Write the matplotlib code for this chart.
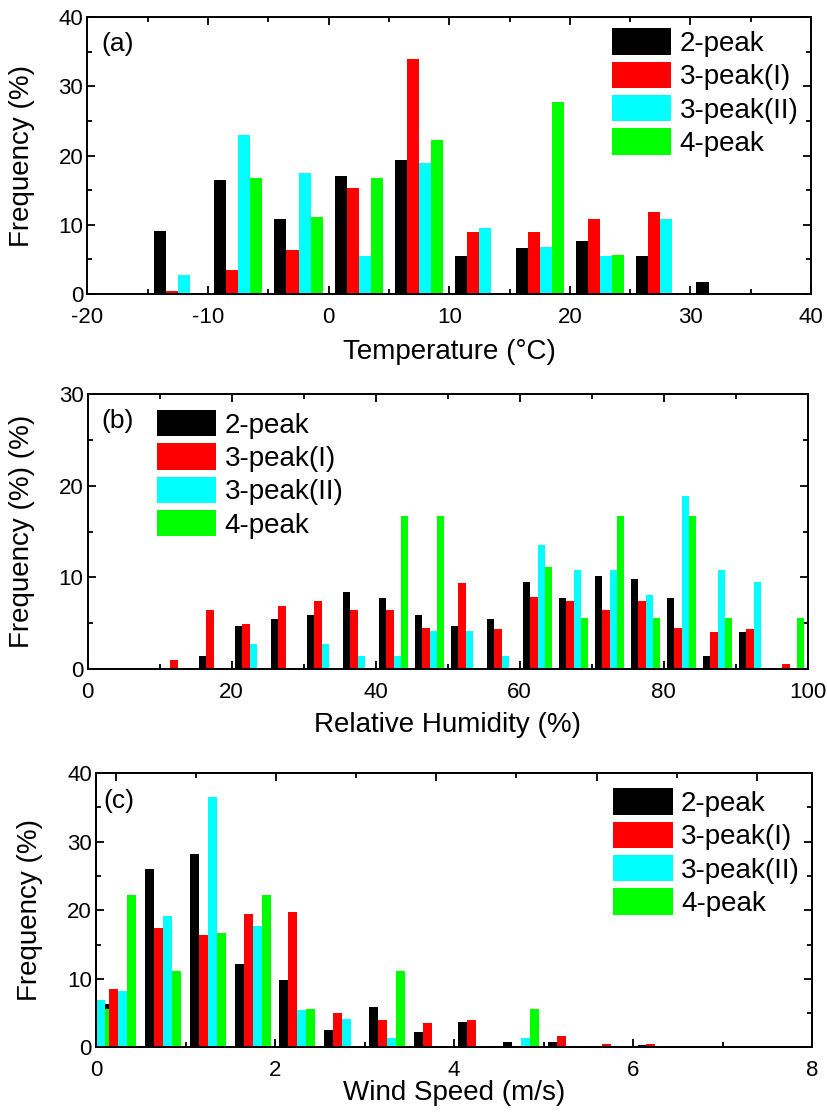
import numpy as np
import matplotlib
matplotlib.use("Agg")
import matplotlib.pyplot as plt
from matplotlib.ticker import MultipleLocator

plt.rcParams['font.family'] = ['Liberation Sans', 'DejaVu Sans']
plt.rcParams['axes.unicode_minus'] = False

series_names = ['2-peak', '3-peak(I)', '3-peak(II)', '4-peak']
series_colors = ['#000000', '#ff0000', '#00ffff', '#00ff00']

# (a) temperature, 5 degC bins (left edges)
temp_bins = [-15, -10, -5, 0, 5, 10, 15, 20, 25, 30]
temp_2peak = [9.1, 16.4, 10.9, 17.1, 19.3, 5.5, 6.6, 7.7, 5.5, 1.8]
temp_3peak_1 = [0.5, 3.5, 6.4, 15.3, 33.9, 8.9, 8.9, 10.8, 11.8, 0]
temp_3peak_2 = [2.7, 23.0, 17.5, 5.5, 18.9, 9.5, 6.8, 5.5, 10.8, 0]
temp_4peak = [0, 16.7, 11.1, 16.7, 22.2, 0, 27.8, 5.6, 0, 0]

# (b) relative humidity, 5 % bins (left edges)
rh_bins = [10, 15, 20, 25, 30, 35, 40, 45, 50, 55, 60, 65, 70, 75, 80, 85, 90, 95]
rh_2peak = [0, 1.45, 4.7, 5.5, 5.85, 8.4, 7.7, 5.85, 4.7, 5.5, 9.5, 7.7, 10.2, 9.85, 7.7, 1.45, 4.0, 0]
rh_3peak_1 = [1.0, 6.4, 4.9, 6.9, 7.4, 6.4, 6.4, 4.5, 9.35, 4.4, 7.9, 7.4, 6.4, 7.4, 4.5, 4.0, 4.4, 0.5]
rh_3peak_2 = [0, 0, 2.7, 0, 2.7, 1.4, 1.4, 4.1, 4.1, 1.4, 13.5, 10.8, 10.8, 8.1, 18.9, 10.8, 9.5, 0]
rh_4peak = [0, 0, 0, 0, 0, 0, 16.7, 16.7, 0, 0, 11.1, 5.6, 16.7, 5.6, 16.7, 5.6, 0, 5.6]

# (c) wind speed, 0.5 m/s bins (left edges), plus the calm group at -0.25
wind_bins = [0, 0.5, 1.0, 1.5, 2.0, 2.5, 3.0, 3.5, 4.0, 4.5, 5.0, 5.5, 6.0]
wind_2peak = [6.3, 26.1, 28.2, 12.1, 9.9, 2.6, 5.9, 2.3, 3.7, 0.8, 0.8, 0, 0.4]
wind_3peak_1 = [8.5, 17.4, 16.35, 19.4, 19.8, 5.0, 4.0, 3.5, 4.0, 0, 1.6, 0.55, 0.55]
wind_3peak_2 = [8.2, 19.1, 36.6, 17.7, 5.5, 4.1, 1.4, 0, 0, 1.4, 0, 0, 0]
wind_4peak = [22.3, 11.1, 16.7, 22.2, 5.6, 0, 11.1, 0, 0, 5.6, 0, 0, 0]
calm_bin = -0.25
calm_vals = [0, 0, 6.9, 5.6]


def grouped_bars(ax, bins, data, bw, zorders=(2, 3, 3, 3)):
    bins = np.asarray(bins, dtype=float)
    w = 0.2 * bw
    for i, (vals, c) in enumerate(zip(data, series_colors)):
        ax.bar(bins + bw * (0.2 + 0.2 * i), vals, width=w, color=c,
               linewidth=0, zorder=zorders[i], label=series_names[i])


def style_axes(ax, xmaj, xmin, ymaj=10, ymin=5, top=True):
    for s in ax.spines.values():
        s.set_linewidth(1.4)
        s.set_zorder(5)
    ax.xaxis.set_major_locator(MultipleLocator(xmaj))
    ax.xaxis.set_minor_locator(MultipleLocator(xmin))
    ax.yaxis.set_major_locator(MultipleLocator(ymaj))
    ax.yaxis.set_minor_locator(MultipleLocator(ymin))
    ax.tick_params(which='both', direction='in', top=top, right=True,
                   width=1.3, labelsize=16)
    ax.tick_params(which='major', length=6)
    ax.tick_params(which='minor', length=3.5)
    ax.tick_params(axis='x', pad=9)
    ax.tick_params(axis='y', pad=3)


def set_labels(ax, xlabel, ylabel, xpos, ypos):
    ax.set_xlabel(xlabel, fontsize=20, va='center')
    ax.set_ylabel(ylabel, fontsize=20, va='center')
    ax.xaxis.set_label_coords(0.5, xpos)
    ax.yaxis.set_label_coords(ypos, 0.5)


def add_legend(ax, x, y):
    ax.legend(loc='upper left', bbox_to_anchor=(x, y), frameon=False,
              fontsize=20, handlelength=2.15, handleheight=1.08,
              labelspacing=0.17, handletextpad=0.3, borderpad=0,
              borderaxespad=0)


fig = plt.figure(figsize=(8.27, 11.13), dpi=100)

# (a)
ax1 = fig.add_axes([0.1058, 0.7358, 0.8749, 0.2489])
grouped_bars(ax1, temp_bins, [temp_2peak, temp_3peak_1, temp_3peak_2, temp_4peak], 5,
             zorders=(2, 2, 2, 2))
ax1.set_xlim(-20, 40)
ax1.set_ylim(0, 40)
style_axes(ax1, 10, 5)
set_labels(ax1, 'Temperature (\u00b0C)', 'Frequency (%)', -0.209, -0.0905)
ax1.text(0.019, 0.9025, '(a)', transform=ax1.transAxes, fontsize=19, va='center')
add_legend(ax1, 0.7245, 0.959)

# (b)
ax2 = fig.add_axes([0.1059, 0.3989, 0.8706, 0.2471])
grouped_bars(ax2, rh_bins, [rh_2peak, rh_3peak_1, rh_3peak_2, rh_4peak], 5,
             zorders=(2, 2, 2, 2))
ax2.set_xlim(0, 100)
ax2.set_ylim(0, 30)
style_axes(ax2, 20, 10)
set_labels(ax2, 'Relative Humidity (%)', 'Frequency (%) (%)', -0.204, -0.091)
ax2.text(0.019, 0.9025, '(b)', transform=ax2.transAxes, fontsize=19, va='center')
add_legend(ax2, 0.096, 0.942)

# (c)
ax3 = fig.add_axes([0.1161, 0.0589, 0.8658, 0.2464])
grouped_bars(ax3, wind_bins, [wind_2peak, wind_3peak_1, wind_3peak_2, wind_4peak], 0.5)
# calm group sits between the black bars and the other series
for i, (v, c) in enumerate(zip(calm_vals, series_colors)):
    ax3.bar(calm_bin + 0.5 * (0.2 + 0.2 * i), v, width=0.1, color=c,
            linewidth=0, zorder=2.5)
ax3.set_xlim(0, 8)
ax3.set_ylim(0, 40)
style_axes(ax3, 2, 1, top=False)
set_labels(ax3, 'Wind Speed (m/s)', 'Frequency (%)', -0.166, -0.092)
ax3.text(0.010, 0.90, '(c)', transform=ax3.transAxes, fontsize=19, va='center')
add_legend(ax3, 0.722, 0.945)

# top axis of (c) runs on its own scale
top = ax3.twiny()
top.set_xlim(-0.25, 8.69)
top.xaxis.set_major_locator(MultipleLocator(2))
top.xaxis.set_minor_locator(MultipleLocator(1))
top.tick_params(which='both', direction='in', top=True, bottom=False,
                labeltop=False, width=1.3)
top.tick_params(which='major', length=6)
top.tick_params(which='minor', length=3.5)
for s in top.spines.values():
    s.set_linewidth(1.4)

fig.savefig('out.png', dpi=100)
